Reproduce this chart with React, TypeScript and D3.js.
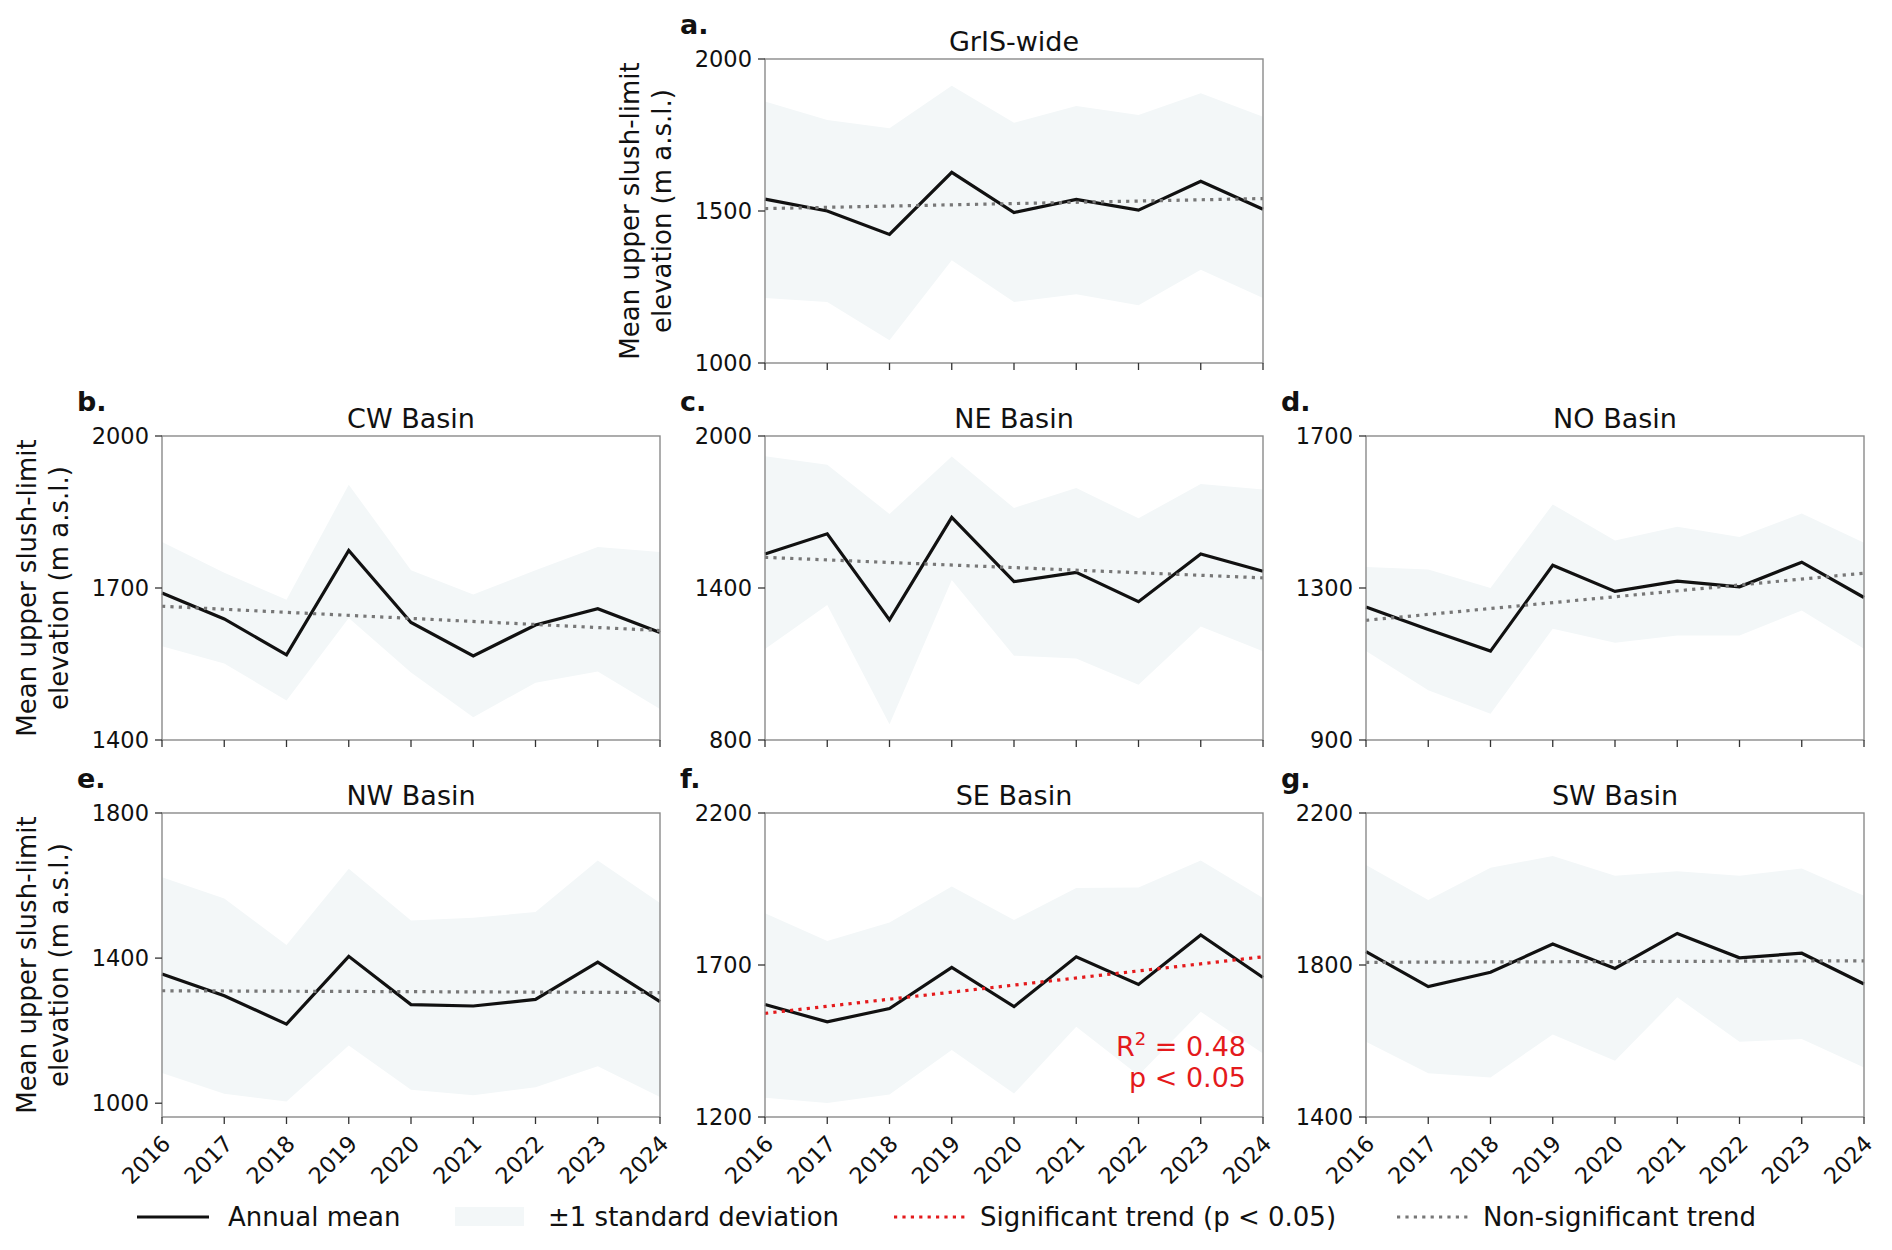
import React from "react";
import * as d3 from "d3";

// years on the x axis
const YEARS = [2016, 2017, 2018, 2019, 2020, 2021, 2022, 2023, 2024];

// a. GrIS-wide
const GRIS_MEAN = [1539, 1500, 1423, 1627, 1495, 1538, 1503, 1598, 1506];
const GRIS_UPPER = [1860, 1799, 1772, 1912, 1790, 1845, 1816, 1887, 1810];
const GRIS_LOWER = [1214, 1201, 1075, 1338, 1201, 1226, 1190, 1307, 1214];
const GRIS_TREND = [1508, 1541];

// b. CW Basin
const CW_MEAN = [1690, 1639, 1568, 1774, 1632, 1566, 1627, 1659, 1612];
const CW_UPPER = [1791, 1730, 1677, 1904, 1735, 1687, 1735, 1781, 1771];
const CW_LOWER = [1585, 1551, 1478, 1641, 1533, 1445, 1513, 1535, 1461];
const CW_TREND = [1664, 1616];

// c. NE Basin
const NE_MEAN = [1534, 1614, 1274, 1679, 1425, 1462, 1346, 1534, 1466];
const NE_UPPER = [1920, 1887, 1692, 1919, 1716, 1795, 1675, 1811, 1789];
const NE_LOWER = [1159, 1333, 862, 1432, 1133, 1122, 1018, 1248, 1150];
const NE_TREND = [1521, 1440];

// d. NO Basin
const NO_MEAN = [1250, 1191, 1134, 1360, 1291, 1318, 1303, 1368, 1275];
const NO_UPPER = [1355, 1349, 1300, 1520, 1425, 1461, 1434, 1496, 1419];
const NO_LOWER = [1134, 1031, 969, 1193, 1156, 1175, 1175, 1241, 1140];
const NO_TREND = [1215, 1339];

// e. NW Basin
const NW_MEAN = [1356, 1296, 1218, 1405, 1272, 1268, 1286, 1389, 1280];
const NW_UPPER = [1623, 1564, 1436, 1646, 1504, 1511, 1527, 1669, 1552];
const NW_LOWER = [1083, 1026, 1005, 1159, 1037, 1022, 1044, 1102, 1017];
const NW_TREND = [1310, 1305];

// f. SE Basin (significant)
const SE_MEAN = [1570, 1513, 1557, 1692, 1563, 1727, 1636, 1799, 1659];
const SE_UPPER = [1870, 1779, 1840, 1958, 1848, 1953, 1955, 2044, 1920];
const SE_LOWER = [1263, 1246, 1274, 1420, 1277, 1497, 1337, 1546, 1409];
const SE_TREND = [1541, 1727];

// g. SW Basin
const SW_MEAN = [1835, 1743, 1781, 1855, 1791, 1883, 1819, 1831, 1750];
const SW_UPPER = [2063, 1971, 2056, 2087, 2035, 2047, 2035, 2054, 1982];
const SW_LOWER = [1598, 1515, 1504, 1617, 1548, 1715, 1598, 1605, 1530];
const SW_TREND = [1807, 1811];

const LEGEND_LABELS = [
  "Annual mean",
  "±1 standard deviation",
  "Significant trend (p < 0.05)",
  "Non-significant trend",
];

const FONT = "DejaVu Sans, Liberation Sans, sans-serif";
const BAND = "#f3f7f8";
const SPINE = "#8a8a8a";
const TREND_GRAY = "#777777";
const TREND_RED = "#e41a1c";

const COL_X = [162, 765, 1366];
const ROW_Y = [59, 436, 813];
const PW = 498;
const PH = 304;

interface PanelDef {
  letter: string;
  title: string;
  mean: number[];
  upper: number[];
  lower: number[];
  trend: number[];
  yDomain: [number, number];
  yTicks: number[];
  col: number;
  row: number;
  yLabel: boolean;
  xLabels: boolean;
  significant: boolean;
}

const PANELS: PanelDef[] = [
  { letter: "a.", title: "GrIS-wide", mean: GRIS_MEAN, upper: GRIS_UPPER, lower: GRIS_LOWER, trend: GRIS_TREND, yDomain: [1000, 2000], yTicks: [1000, 1500, 2000], col: 1, row: 0, yLabel: true, xLabels: false, significant: false },
  { letter: "b.", title: "CW Basin", mean: CW_MEAN, upper: CW_UPPER, lower: CW_LOWER, trend: CW_TREND, yDomain: [1400, 2000], yTicks: [1400, 1700, 2000], col: 0, row: 1, yLabel: true, xLabels: false, significant: false },
  { letter: "c.", title: "NE Basin", mean: NE_MEAN, upper: NE_UPPER, lower: NE_LOWER, trend: NE_TREND, yDomain: [800, 2000], yTicks: [800, 1400, 2000], col: 1, row: 1, yLabel: false, xLabels: false, significant: false },
  { letter: "d.", title: "NO Basin", mean: NO_MEAN, upper: NO_UPPER, lower: NO_LOWER, trend: NO_TREND, yDomain: [900, 1700], yTicks: [900, 1300, 1700], col: 2, row: 1, yLabel: false, xLabels: false, significant: false },
  { letter: "e.", title: "NW Basin", mean: NW_MEAN, upper: NW_UPPER, lower: NW_LOWER, trend: NW_TREND, yDomain: [962, 1800], yTicks: [1000, 1400, 1800], col: 0, row: 2, yLabel: true, xLabels: true, significant: false },
  { letter: "f.", title: "SE Basin", mean: SE_MEAN, upper: SE_UPPER, lower: SE_LOWER, trend: SE_TREND, yDomain: [1200, 2200], yTicks: [1200, 1700, 2200], col: 1, row: 2, yLabel: false, xLabels: true, significant: true },
  { letter: "g.", title: "SW Basin", mean: SW_MEAN, upper: SW_UPPER, lower: SW_LOWER, trend: SW_TREND, yDomain: [1400, 2200], yTicks: [1400, 1800, 2200], col: 2, row: 2, yLabel: false, xLabels: true, significant: false },
];

const Panel: React.FC<{ p: PanelDef }> = ({ p }) => {
  const left = COL_X[p.col];
  const top = ROW_Y[p.row];
  const x = d3.scaleLinear().domain([YEARS[0], YEARS[YEARS.length - 1]]).range([left, left + PW]);
  const y = d3.scaleLinear().domain(p.yDomain).range([top + PH, top]);
  const idx = YEARS.map((_, i) => i);

  const area = d3
    .area<number>()
    .x((i) => x(YEARS[i]))
    .y0((i) => y(p.lower[i]))
    .y1((i) => y(p.upper[i]));
  const line = d3
    .line<number>()
    .x((i) => x(YEARS[i]))
    .y((i) => y(p.mean[i]));
  const trendLine = d3
    .line<number>()
    .x((i) => x(i === 0 ? YEARS[0] : YEARS[YEARS.length - 1]))
    .y((i) => y(p.trend[i]));

  return (
    <g>
      <path d={area(idx) || ""} fill={BAND} />
      <path d={line(idx) || ""} fill="none" stroke="#111" strokeWidth={3.2} strokeLinejoin="miter" />
      <path
        d={trendLine([0, 1]) || ""}
        fill="none"
        stroke={p.significant ? TREND_RED : TREND_GRAY}
        strokeWidth={3.2}
        strokeDasharray="3.2 5.2"
      />
      <rect x={left} y={top} width={PW} height={PH} fill="none" stroke={SPINE} strokeWidth={1.4} />
      {/* y ticks */}
      {p.yTicks.map((t) => (
        <g key={t}>
          <line x1={left - 7} x2={left} y1={y(t)} y2={y(t)} stroke="#333" strokeWidth={1.3} />
          <text x={left - 13} y={y(t)} dy="0.36em" textAnchor="end" fontSize={22.5} fill="#111">
            {t}
          </text>
        </g>
      ))}
      {/* x ticks */}
      {YEARS.map((yr) => (
        <g key={yr}>
          <line x1={x(yr)} x2={x(yr)} y1={top + PH} y2={top + PH + 7} stroke="#333" strokeWidth={1.3} />
          {p.xLabels && (
            <text
              transform={`translate(${x(yr) + 10},${top + PH + 28}) rotate(-45)`}
              textAnchor="end"
              fontSize={22.5}
              fill="#111"
            >
              {yr}
            </text>
          )}
        </g>
      ))}
      <text x={left + PW / 2} y={top - 8} textAnchor="middle" fontSize={27} fill="#111">
        {p.title}
      </text>
      <text x={left - 85} y={top - 25} fontSize={27} fontWeight="bold" fill="#111">
        {p.letter}
      </text>
      {p.yLabel && (
        <g transform={`translate(${left},${top + PH / 2}) rotate(-90)`}>
          <text x={0} y={-126} textAnchor="middle" fontSize={26} fill="#111">
            Mean upper slush-limit
          </text>
          <text x={0} y={-94} textAnchor="middle" fontSize={26} fill="#111">
            elevation (m a.s.l.)
          </text>
        </g>
      )}
      {p.significant && (
        <g fill={TREND_RED} fontSize={27} textAnchor="end">
          <text x={left + PW - 17} y={top + PH - 61}>
            R<tspan fontSize={18} dy={-11}>2</tspan>
            <tspan dy={11}> = 0.48</tspan>
          </text>
          <text x={left + PW - 17} y={top + PH - 30}>
            p &lt; 0.05
          </text>
        </g>
      )}
    </g>
  );
};

const Legend: React.FC = () => {
  const cy = 1217;
  const base = 1226;
  return (
    <g fontSize={26} fill="#111">
      <line x1={137} x2={209} y1={cy} y2={cy} stroke="#111" strokeWidth={3.2} />
      <text x={228} y={base}>{LEGEND_LABELS[0]}</text>
      <rect x={455} y={1207} width={69} height={19} fill={BAND} />
      <text x={548} y={base}>{LEGEND_LABELS[1]}</text>
      <line x1={894} x2={968} y1={cy} y2={cy} stroke={TREND_RED} strokeWidth={3.2} strokeDasharray="3.2 5.2" />
      <text x={980} y={base}>{LEGEND_LABELS[2]}</text>
      <line x1={1397} x2={1470} y1={cy} y2={cy} stroke={TREND_GRAY} strokeWidth={3.2} strokeDasharray="3.2 5.2" />
      <text x={1483} y={base}>{LEGEND_LABELS[3]}</text>
    </g>
  );
};

export default function App() {
  return (
    <svg
      width={1892}
      height={1250}
      viewBox="0 0 1892 1250"
      style={{ position: "absolute", left: 0, top: 0, background: "#fff" }}
      fontFamily={FONT}
    >
      <rect width={1892} height={1250} fill="#fff" />
      {PANELS.map((p) => (
        <Panel key={p.letter} p={p} />
      ))}
      <Legend />
    </svg>
  );
}
